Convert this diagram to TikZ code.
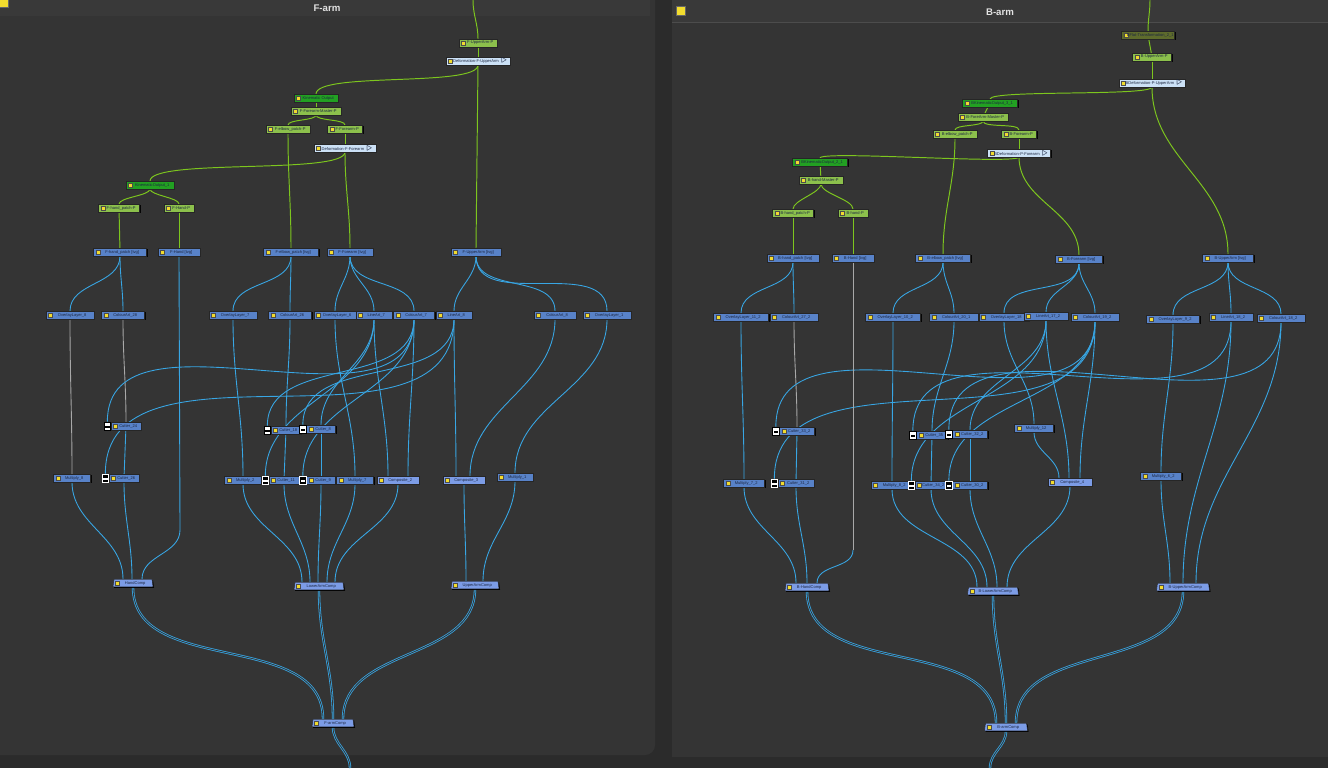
\documentclass[tikz,border=0pt]{standalone}
\usepackage{fontspec}
\setmainfont{Liberation Sans}
\usetikzlibrary{positioning, calc, shapes.geometric, shadows}

\definecolor{outerbg}{HTML}{2B2B2B}
\definecolor{panelbg}{HTML}{343434}
\definecolor{titlebg}{HTML}{393939}
\definecolor{titletext}{HTML}{E2E2E2}
\definecolor{sqyellow}{HTML}{F2DC2E}
\definecolor{pegfill}{HTML}{8CC04C}
\definecolor{kinfill}{HTML}{22A022}
\definecolor{olivefill}{HTML}{5E6B2C}
\definecolor{deffill}{HTML}{CCE1F6}
\definecolor{tvgfill}{HTML}{5882C8}
\definecolor{compfill}{HTML}{7C9CE6}
\definecolor{nodetext}{HTML}{1C2640}
\definecolor{edgegreen}{HTML}{7DC61E}
\definecolor{edgeblue}{HTML}{38A6E4}
\definecolor{edgegray}{HTML}{A8A8A8}

\pgfdeclarelayer{panel}
\pgfdeclarelayer{edges}
\pgfsetlayers{panel,edges,main}

\begin{document}
\begin{tikzpicture}[x=0.02cm, y=-0.02cm,
  block/.style={draw=black!85, line width=0.25pt, inner sep=0pt,
    minimum height=0.15cm, font=\fontsize{2.3}{2.7}\selectfont, text=nodetext,
    drop shadow={shadow xshift=0.6pt, shadow yshift=-0.6pt, fill=black, opacity=0.9},
    path picture={\fill[sqyellow, draw=black!70, line width=0.15pt]
      ([xshift=1.3pt, yshift=1.1pt]path picture bounding box.west) rectangle ++(2.2pt,-2.2pt);}},
  w/.style={minimum width=#1*0.02cm},
  peg/.style={block, fill=pegfill},
  kin/.style={block, fill=kinfill},
  olivebox/.style={block, fill=olivefill},
  deform/.style={block, fill=deffill},
  tvg/.style={block, fill=tvgfill},
  compo/.style={block, fill=compfill},
  comp/.style={block, fill=compfill, trapezium, trapezium left angle=75,
    trapezium right angle=75, trapezium stretches body},
  ciconw/.style={draw=black, line width=0.2pt, fill=white, inner sep=0pt,
    minimum width=0.13cm, minimum height=0.17cm,
    path picture={\fill[black] ([xshift=0.6pt, yshift=1.2pt]path picture bounding box.south west)
      rectangle ([xshift=-0.6pt, yshift=2.4pt]path picture bounding box.south east);}},
  ciconb/.style={draw=white, line width=0.2pt, fill=black, inner sep=0pt,
    minimum width=0.13cm, minimum height=0.17cm,
    path picture={\fill[white] ([xshift=0.6pt, yshift=1.2pt]path picture bounding box.south west)
      rectangle ([xshift=-0.6pt, yshift=2.4pt]path picture bounding box.south east);}},
  ysquare/.style={fill=sqyellow, draw=black!60, line width=0.3pt, minimum size=0.18cm, inner sep=0pt},
  titletxt/.style={font=\fontsize{5.5}{6}\selectfont\bfseries, text=titletext},
  gline/.style={draw=edgegreen, line width=0.55pt},
  bline/.style={draw=edgeblue, line width=0.5pt},
  gyline/.style={draw=edgegray, line width=0.5pt},
  dline/.style={draw=edgeblue, line width=0.45pt, double=panelbg, double distance=0.45pt}]

\useasboundingbox (0,0) rectangle (1328,768);

% --- Panels ---
\begin{pgfonlayer}{panel}
\fill[outerbg] (0,0) rectangle (1328,768);
\fill[panelbg, rounded corners=0.2cm] (-20,-20) rectangle (655,755);
\fill[titlebg] (0,0) rectangle (650,16);
\fill[panelbg] (672,0) rectangle (1328,757);
\fill[titlebg] (672,0) rectangle (1328,22);
\draw[black!70, line width=0.3pt] (672,22) -- (1328,22);
\end{pgfonlayer}

\node[ysquare] (fSq) at (4,3) {};
\node[titletxt] (fTitle) at (327,8) {F-arm};
\node[ysquare] (bSq) at (681,11) {};
\node[titletxt] (bTitle) at (1000,12) {B-arm};

% --- F-arm: pegs ---
\coordinate (fTop) at (473,0);
\node[peg, w=38] (fUpperP) at (478,43) {\hspace{2.5pt}F-UpperArm-P};
\node[deform, w=64] (fDefUpper) at (478,61) {\hspace{2.5pt}Deformation-F-UpperArm\enspace$\triangleright$};
\node[kin, w=44] (fKin) at (316,98) {\hspace{2.5pt}Kinematic Output};
\node[peg, w=50] (fForeMaster) at (316,111) {\hspace{2.5pt}F-Forearm-Master-P};
\node[peg, w=44] (fElbowP) at (288,129) {\hspace{2.5pt}F-elbow\_patch-P};
\node[peg, w=35] (fForeP) at (345,129) {\hspace{2.5pt}F-Forearm-P};
\node[deform, w=62] (fDefFore) at (345,148) {\hspace{2.5pt}Deformation-F-Forearm\enspace$\triangleright$};
\node[kin, w=48] (fKin1) at (150,185) {\hspace{2.5pt}KinematicOutput\_1};
\node[peg, w=41] (fHandPatchP) at (119,208) {\hspace{2.5pt}F-hand\_patch-P};
\node[peg, w=30] (fHandP) at (179,208) {\hspace{2.5pt}F-Hand-P};

% --- F-arm: drawings ---
\node[tvg, w=53] (fHandPatchT) at (120,252) {\hspace{2.5pt}F-hand\_patch [tvg]};
\node[tvg, w=42] (fHandT) at (179,252) {\hspace{2.5pt}F-Hand [tvg]};
\node[tvg, w=55] (fElbowT) at (291,252) {\hspace{2.5pt}F-elbow\_patch [tvg]};
\node[tvg, w=46] (fForeT) at (350,252) {\hspace{2.5pt}F-Forearm [tvg]};
\node[tvg, w=50] (fUpperT) at (476,252) {\hspace{2.5pt}F-UpperArm [tvg]};

% --- F-arm: layers ---
\node[tvg, w=48] (fOver8) at (70,315) {\hspace{2.5pt}OverlayLayer\_8};
\node[tvg, w=43] (fCol28) at (123,315) {\hspace{2.5pt}ColourArt\_28};
\node[tvg, w=48] (fOver7) at (233,315) {\hspace{2.5pt}OverlayLayer\_7};
\node[tvg, w=43] (fCol26) at (290,315) {\hspace{2.5pt}ColourArt\_26};
\node[tvg, w=42] (fOver6) at (335,315) {\hspace{2.5pt}OverlayLayer\_6};
\node[tvg, w=36] (fLine7) at (374,315) {\hspace{2.5pt}LineArt\_7};
\node[tvg, w=41] (fCol7) at (414,315) {\hspace{2.5pt}ColourArt\_7};
\node[tvg, w=36] (fLine8) at (454,315) {\hspace{2.5pt}LineArt\_8};
\node[tvg, w=42] (fCol8) at (555,315) {\hspace{2.5pt}ColourArt\_8};
\node[tvg, w=48] (fOver1) at (607,315) {\hspace{2.5pt}OverlayLayer\_1};

% --- F-arm: cutters and multiplies ---
\node[tvg, w=30] (fCut24) at (126,426) {\hspace{2.5pt}Cutter\_24};
\node[ciconw, left=0pt of fCut24] (fCut24i) {};
\node[tvg, w=30] (fCut18) at (286,430) {\hspace{2.5pt}Cutter\_18};
\node[ciconw, left=0pt of fCut18] (fCut18i) {};
\node[tvg, w=29] (fCut8) at (321,429) {\hspace{2.5pt}Cutter\_8};
\node[ciconw, left=0pt of fCut8] (fCut8i) {};
\node[tvg, w=37] (fMul8) at (72,478) {\hspace{2.5pt}Multiply\_8};
\node[tvg, w=30] (fCut26) at (124,478) {\hspace{2.5pt}Cutter\_26};
\node[ciconb, left=0pt of fCut26] (fCut26i) {};
\node[tvg, w=37] (fMul2) at (243,480) {\hspace{2.5pt}Multiply\_2};
\node[tvg, w=30] (fCut11) at (284,480) {\hspace{2.5pt}Cutter\_11};
\node[ciconb, left=0pt of fCut11] (fCut11i) {};
\node[tvg, w=29] (fCut9) at (321,480) {\hspace{2.5pt}Cutter\_9};
\node[ciconb, left=0pt of fCut9] (fCut9i) {};
\node[tvg, w=37] (fMul7) at (355,480) {\hspace{2.5pt}Multiply\_7};
\node[compo, w=42] (fComp2) at (398,480) {\hspace{2.5pt}Composite\_2};
\node[compo, w=42] (fComp3) at (464,480) {\hspace{2.5pt}Composite\_3};
\node[tvg, w=36] (fMul1) at (515,477) {\hspace{2.5pt}Multiply\_1};

% --- F-arm: comps ---
\coordinate (fHandBend) at (180,530);
\node[comp, w=40] (fHandComp) at (133,583) {\hspace{2.5pt}HandComp};
\node[comp, w=50] (fLowComp) at (319,586) {\hspace{2.5pt}LowerArmComp};
\node[comp, w=48] (fUpComp) at (475,585) {\hspace{2.5pt}UpperArmComp};
\node[comp, w=42] (fArmComp) at (333,723) {\hspace{2.5pt}F-armComp};
\coordinate (fBottom) at (350,768);

% --- B-arm: pegs ---
\coordinate (bTop) at (1150,0);
\node[olivebox, w=53] (bInkT) at (1148,35) {\hspace{2.5pt}BFlat-Transformation\_2\_1};
\node[peg, w=39] (bUpperP) at (1152,57) {\hspace{2.5pt}B-UpperArm-P};
\node[deform, w=66] (bDefUpper) at (1152,83) {\hspace{2.5pt}BDeformation-P-UpperArm\enspace$\triangleright$};
\node[kin, w=55] (bKin3) at (990,103) {\hspace{2.5pt}BKinematicOutput\_3\_1};
\node[peg, w=50] (bForeMaster) at (983,117) {\hspace{2.5pt}B-ForeArm-Master-P};
\node[peg, w=44] (bElbowP) at (955,134) {\hspace{2.5pt}B-elbow\_patch-P};
\node[peg, w=35] (bForeP) at (1019,134) {\hspace{2.5pt}B-Forearm-P};
\node[deform, w=63] (bDefFore) at (1019,153) {\hspace{2.5pt}BDeformation-P-Forearm\enspace$\triangleright$};
\node[kin, w=55] (bKin2) at (820,162) {\hspace{2.5pt}BKinematicOutput\_2\_1};
\node[peg, w=44] (bHandMaster) at (821,180) {\hspace{2.5pt}B-hand-Master-P};
\node[peg, w=41] (bHandPatchP) at (793,213) {\hspace{2.5pt}B-hand\_patch-P};
\node[peg, w=30] (bHandP) at (853,213) {\hspace{2.5pt}B-hand-P};

% --- B-arm: drawings ---
\node[tvg, w=52] (bHandPatchT) at (793,258) {\hspace{2.5pt}B-hand\_patch [tvg]};
\node[tvg, w=42] (bHandT) at (853,258) {\hspace{2.5pt}B-Hand [tvg]};
\node[tvg, w=55] (bElbowT) at (943,258) {\hspace{2.5pt}B-elbow\_patch [tvg]};
\node[tvg, w=47] (bForeT) at (1079,259) {\hspace{2.5pt}B-Forearm [tvg]};
\node[tvg, w=51] (bUpperT) at (1228,258) {\hspace{2.5pt}B-UpperArm [tvg]};

% --- B-arm: layers ---
\node[tvg, w=55] (bOver11) at (741,317) {\hspace{2.5pt}OverlayLayer\_11\_2};
\node[tvg, w=48] (bCol27) at (794,317) {\hspace{2.5pt}ColourArt\_27\_2};
\node[tvg, w=55] (bOver10) at (893,317) {\hspace{2.5pt}OverlayLayer\_10\_2};
\node[tvg, w=49] (bCol20) at (954,317) {\hspace{2.5pt}ColourArt\_20\_1};
\node[tvg, w=50] (bOver18) at (1004,317) {\hspace{2.5pt}OverlayLayer\_18};
\node[tvg, w=44] (bLine17) at (1046,316) {\hspace{2.5pt}LineArt\_17\_2};
\node[tvg, w=48] (bCol19) at (1095,317) {\hspace{2.5pt}ColourArt\_19\_2};
\node[tvg, w=53] (bOver9) at (1173,319) {\hspace{2.5pt}OverlayLayer\_9\_2};
\node[tvg, w=44] (bLine18) at (1231,317) {\hspace{2.5pt}LineArt\_18\_2};
\node[tvg, w=48] (bCol18) at (1281,318) {\hspace{2.5pt}ColourArt\_18\_2};

% --- B-arm: cutters and multiplies ---
\node[tvg, w=35] (bCut33) at (797,431) {\hspace{2.5pt}Cutter\_33\_2};
\node[ciconw, left=0pt of bCut33] (bCut33i) {};
\node[tvg, w=31] (bCut35) at (932,435) {\hspace{2.5pt}Cutter\_35};
\node[ciconw, left=0pt of bCut35] (bCut35i) {};
\node[tvg, w=35] (bCut32) at (970,434) {\hspace{2.5pt}Cutter\_32\_2};
\node[ciconw, left=0pt of bCut32] (bCut32i) {};
\node[tvg, w=39] (bMul12) at (1034,428) {\hspace{2.5pt}Multiply\_12};
\node[tvg, w=41] (bMul7) at (744,483) {\hspace{2.5pt}Multiply\_7\_2};
\node[tvg, w=36] (bCut31) at (796,483) {\hspace{2.5pt}Cutter\_31\_2};
\node[ciconb, left=0pt of bCut31] (bCut31i) {};
\node[tvg, w=42] (bMul8) at (892,485) {\hspace{2.5pt}Multiply\_8\_2};
\node[tvg, w=32] (bCut34) at (931,485) {\hspace{2.5pt}Cutter\_34\_2};
\node[ciconb, left=0pt of bCut34] (bCut34i) {};
\node[tvg, w=35] (bCut30) at (970,485) {\hspace{2.5pt}Cutter\_30\_2};
\node[ciconb, left=0pt of bCut30] (bCut30i) {};
\node[compo, w=44] (bComp4) at (1070,482) {\hspace{2.5pt}Composite\_4};
\node[tvg, w=41] (bMul6) at (1161,476) {\hspace{2.5pt}Multiply\_6\_2};

% --- B-arm: comps ---
\coordinate (bHandBend) at (853,550);
\node[comp, w=44] (bHandComp) at (807,587) {\hspace{2.5pt}B-HandComp};
\node[comp, w=51] (bLowComp) at (993,591) {\hspace{2.5pt}B-LowerArmComp};
\node[comp, w=53] (bUpComp) at (1183,587) {\hspace{2.5pt}B-UpperArmComp};
\node[comp, w=43] (bArmComp) at (1006,727) {\hspace{2.5pt}B-armComp};
\coordinate (bBottom) at (990,768);

\begin{pgfonlayer}{edges}
% --- F-arm: peg links ---
\draw[gline] (fTop) to[out=-90,in=90] (fUpperP.north);
\draw[gline] (fUpperP) -- (fDefUpper);
\draw[gline] (fDefUpper.south) to[out=-90,in=90,looseness=0.35] (fKin.north);
\draw[gline] (fDefUpper.south) -- (fUpperT.north);
\draw[gline] (fKin) -- (fForeMaster);
\draw[gline] (fForeMaster.south) to[out=-90,in=90,looseness=0.5] (fElbowP.north);
\draw[gline] (fForeMaster.south) to[out=-90,in=90,looseness=0.5] (fForeP.north);
\draw[gline] (fForeP) -- (fDefFore);
\draw[gline] (fDefFore.south) to[out=-90,in=90,looseness=0.3] (fKin1.north);
\draw[gline] (fDefFore.south) to[out=-90,in=90] (fForeT.north);
\draw[gline] (fElbowP.south) to[out=-90,in=90] (fElbowT.north);
\draw[gline] (fKin1.south) to[out=-90,in=90,looseness=0.5] (fHandPatchP.north);
\draw[gline] (fKin1.south) to[out=-90,in=90,looseness=0.5] (fHandP.north);
\draw[gline] (fHandPatchP) -- (fHandPatchT);
\draw[gline] (fHandP) -- (fHandT);

% --- F-arm: drawing to layers ---
\draw[bline] (fHandPatchT.south) to[out=-90,in=90] (fOver8.north);
\draw[bline] (fHandPatchT.south) to[out=-90,in=90] (fCol28.north);
\draw[bline] (fElbowT.south) to[out=-90,in=90] (fOver7.north);
\draw[bline] (fElbowT.south) to[out=-90,in=90] (fCol26.north);
\draw[bline] (fForeT.south) to[out=-90,in=90] (fOver6.north);
\draw[bline] (fForeT.south) to[out=-90,in=90] (fLine7.north);
\draw[bline] (fForeT.south) to[out=-90,in=90] (fCol7.north);
\draw[bline] (fUpperT.south) to[out=-90,in=90] (fLine8.north);
\draw[bline] (fUpperT.south) to[out=-90,in=90] (fCol8.north);
\draw[bline] (fUpperT.south) to[out=-90,in=90] (fOver1.north);

% --- F-arm: layers to cutters ---
\draw[gyline] (fOver8.south) to[out=-90,in=90] (fMul8.north);
\draw[gyline] (fCol28.south) to[out=-90,in=90] (fCut24.north);
\draw[bline] (fCut24) -- (fCut26);
\draw[bline] (fCol7.south) to[out=-90,in=90] (fCut24i.north);
\draw[bline] (fLine8.south) to[out=-90,in=90] (fCut26i.north);
\draw[bline] (fOver7.south) to[out=-90,in=90] (fMul2.north);
\draw[bline] (fCol26.south) to[out=-90,in=90] (fCut18.north);
\draw[bline] (fCut18) -- (fCut11);
\draw[bline] (fCol7.south) to[out=-90,in=90] (fCut18i.north);
\draw[bline] (fLine7.south) to[out=-90,in=90] (fCut8.north);
\draw[bline] (fCut8) -- (fCut9);
\draw[bline] (fLine8.south) to[out=-90,in=90] (fCut8i.north);
\draw[bline] (fLine7.south) to[out=-90,in=90] (fCut11i.north);
\draw[bline] (fCol7.south) to[out=-90,in=90] (fCut9i.north);
\draw[bline] (fOver6.south) to[out=-90,in=90] (fMul7.north);
\draw[bline] (fLine7.south) to[out=-90,in=90] ($(fComp2.north)+(-10,0)$);
\draw[bline] (fCol7.south) to[out=-90,in=90] ($(fComp2.north)+(10,0)$);
\draw[bline] (fLine8.south) to[out=-90,in=90] ($(fComp3.north)+(-8,0)$);
\draw[bline] (fCol8.south) to[out=-90,in=90] ($(fComp3.north)+(6,0)$);
\draw[bline] (fOver1.south) to[out=-90,in=90] (fMul1.north);

% --- F-arm: into comps ---
\draw[bline] (fMul8.south) to[out=-90,in=90] ($(fHandComp.north)+(-10,0)$);
\draw[bline] (fCut26.south) to[out=-90,in=90] ($(fHandComp.north)+(-1,0)$);
\draw[bline] (fHandT.south) -- (fHandBend) to[out=-90,in=90] ($(fHandComp.north)+(9,0)$);
\draw[bline] (fMul2.south) to[out=-90,in=90] ($(fLowComp.north)+(-17,0)$);
\draw[bline] (fCut11.south) to[out=-90,in=90] ($(fLowComp.north)+(-9,0)$);
\draw[bline] (fCut9.south) to[out=-90,in=90] ($(fLowComp.north)+(-1,0)$);
\draw[bline] (fMul7.south) to[out=-90,in=90] ($(fLowComp.north)+(8,0)$);
\draw[bline] (fComp2.south) to[out=-90,in=90] ($(fLowComp.north)+(16,0)$);
\draw[bline] (fComp3.south) to[out=-90,in=90] ($(fUpComp.north)+(-9,0)$);
\draw[bline] (fMul1.south) to[out=-90,in=90] ($(fUpComp.north)+(8,0)$);
\draw[dline] (fHandComp.south) to[out=-90,in=90] ($(fArmComp.north)+(-10,0)$);
\draw[dline] (fLowComp.south) to[out=-90,in=90] (fArmComp.north);
\draw[dline] (fUpComp.south) to[out=-90,in=90] ($(fArmComp.north)+(10,0)$);
\draw[dline] (fArmComp.south) to[out=-90,in=90] (fBottom);

% --- B-arm: peg links ---
\draw[gline] (bTop) to[out=-90,in=90] (bInkT.north);
\draw[gline] (bInkT) -- (bUpperP);
\draw[gline] (bUpperP) -- (bDefUpper);
\draw[gline] (bDefUpper.south) to[out=-90,in=90,looseness=0.15] (bKin3.north);
\draw[gline] (bDefUpper.south) to[out=-90,in=90] (bUpperT.north);
\draw[gline] (bKin3) -- (bForeMaster);
\draw[gline] (bForeMaster.south) to[out=-90,in=90,looseness=0.5] (bElbowP.north);
\draw[gline] (bForeMaster.south) to[out=-90,in=90,looseness=0.5] (bForeP.north);
\draw[gline] (bForeP) -- (bDefFore);
\draw[gline] (bDefFore.south) to[out=-90,in=90,looseness=0.1] (bKin2.north);
\draw[gline] (bDefFore.south) to[out=-90,in=90] (bForeT.north);
\draw[gline] (bElbowP.south) to[out=-90,in=90] (bElbowT.north);
\draw[gline] (bKin2) -- (bHandMaster);
\draw[gline] (bHandMaster.south) to[out=-90,in=90,looseness=0.6] (bHandPatchP.north);
\draw[gline] (bHandMaster.south) to[out=-90,in=90,looseness=0.6] (bHandP.north);
\draw[gline] (bHandPatchP) -- (bHandPatchT);
\draw[gline] (bHandP) -- (bHandT);

% --- B-arm: drawing to layers ---
\draw[bline] (bHandPatchT.south) to[out=-90,in=90] (bOver11.north);
\draw[bline] (bHandPatchT.south) to[out=-90,in=90] (bCol27.north);
\draw[bline] (bElbowT.south) to[out=-90,in=90] (bOver10.north);
\draw[bline] (bElbowT.south) to[out=-90,in=90] (bCol20.north);
\draw[bline] (bForeT.south) to[out=-90,in=90] (bOver18.north);
\draw[bline] (bForeT.south) to[out=-90,in=90] (bLine17.north);
\draw[bline] (bForeT.south) to[out=-90,in=90] (bCol19.north);
\draw[bline] (bUpperT.south) to[out=-90,in=90] (bOver9.north);
\draw[bline] (bUpperT.south) to[out=-90,in=90] (bLine18.north);
\draw[bline] (bUpperT.south) to[out=-90,in=90] (bCol18.north);

% --- B-arm: layers to cutters ---
\draw[bline] (bOver11.south) to[out=-90,in=90] (bMul7.north);
\draw[gyline] (bCol27.south) to[out=-90,in=90] (bCut33.north);
\draw[bline] (bCut33) -- (bCut31);
\draw[bline] (bCol19.south) to[out=-90,in=90] (bCut33i.north);
\draw[bline] (bCol19.south) to[out=-90,in=90] (bCut31i.north);
\draw[bline] (bOver10.south) to[out=-90,in=90] (bMul8.north);
\draw[bline] (bCol20.south) to[out=-90,in=90] (bCut35.north);
\draw[bline] (bCut35) -- (bCut34);
\draw[bline] (bOver18.south) to[out=-90,in=90] (bMul12.north);
\draw[bline] (bMul12.south) to[out=-90,in=90] ($(bComp4.north)+(-11,0)$);
\draw[bline] (bLine17.south) to[out=-90,in=90] (bCut32.north);
\draw[bline] (bCut32) -- (bCut30);
\draw[bline] (bLine17.south) to[out=-90,in=90] (bCut34i.north);
\draw[bline] (bCol19.south) to[out=-90,in=90] (bCut30i.north);
\draw[bline] (bLine17.south) to[out=-90,in=90] ($(bComp4.north)+(-1,0)$);
\draw[bline] (bCol19.south) to[out=-90,in=90] ($(bComp4.north)+(10,0)$);
\draw[bline] (bOver9.south) to[out=-90,in=90] (bMul6.north);
\draw[bline] (bLine18.south) to[out=-90,in=90] (bCut35i.north);
\draw[bline] (bCol18.south) to[out=-90,in=90] (bCut32i.north);

% --- B-arm: into comps ---
\draw[bline] (bMul7.south) to[out=-90,in=90] ($(bHandComp.north)+(-11,0)$);
\draw[bline] (bCut31.south) to[out=-90,in=90] (bHandComp.north);
\draw[gyline] (bHandT.south) -- (bHandBend);
\draw[bline] (bHandBend) to[out=-90,in=90] ($(bHandComp.north)+(10,0)$);
\draw[bline] (bMul8.south) to[out=-90,in=90] ($(bLowComp.north)+(-16,0)$);
\draw[bline] (bCut34.south) to[out=-90,in=90] ($(bLowComp.north)+(-6,0)$);
\draw[bline] (bCut30.south) to[out=-90,in=90] ($(bLowComp.north)+(4,0)$);
\draw[bline] (bComp4.south) to[out=-90,in=90] ($(bLowComp.north)+(14,0)$);
\draw[bline] (bMul6.south) to[out=-90,in=90] ($(bUpComp.north)+(-13,0)$);
\draw[bline] (bLine18.south) to[out=-90,in=90] (bUpComp.north);
\draw[bline] (bCol18.south) to[out=-90,in=90] ($(bUpComp.north)+(13,0)$);
\draw[dline] (bHandComp.south) to[out=-90,in=90] ($(bArmComp.north)+(-10,0)$);
\draw[dline] (bLowComp.south) to[out=-90,in=90] (bArmComp.north);
\draw[dline] (bUpComp.south) to[out=-90,in=90] ($(bArmComp.north)+(10,0)$);
\draw[dline] (bArmComp.south) to[out=-90,in=90] (bBottom);
\end{pgfonlayer}

\end{tikzpicture}
\end{document}
